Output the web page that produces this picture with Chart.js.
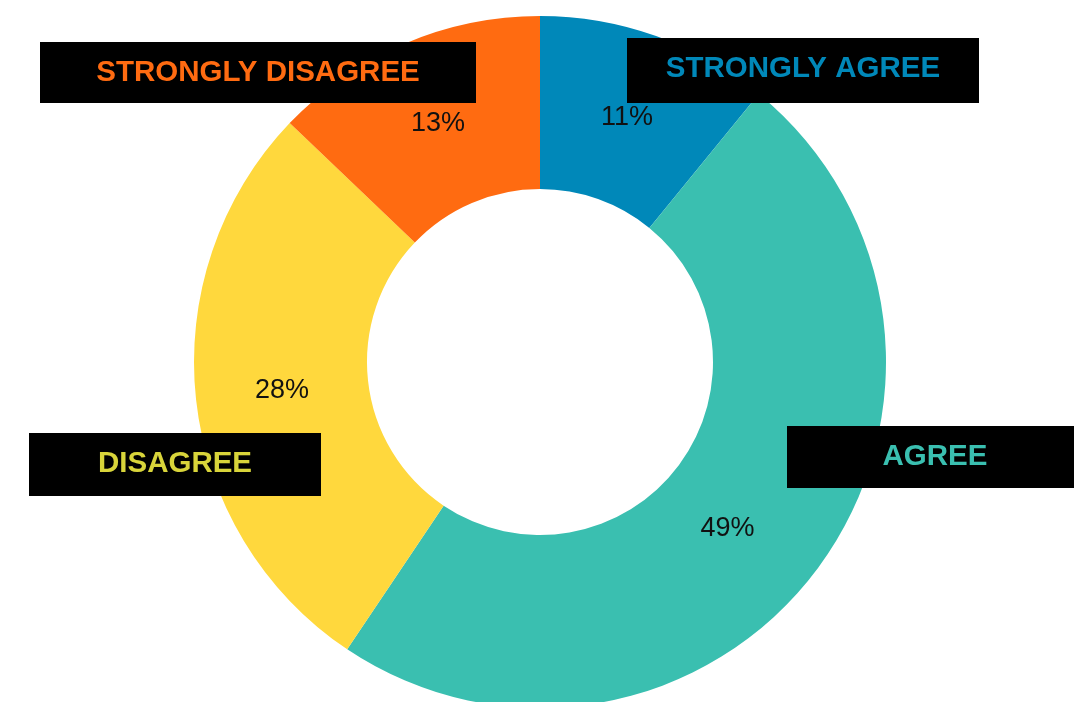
<!DOCTYPE html>
<html>
<head>
<meta charset="utf-8">
<script src="https://cdn.jsdelivr.net/npm/chart.js@4/dist/chart.umd.min.js"></script>
<style>
  html, body { margin: 0; padding: 0; background: #fff; overflow: hidden; }
  #pie { display: block; }
</style>
</head>
<body>
<canvas id="pie" width="1074" height="724"></canvas>
<script>
// survey answers, clockwise from 12 o'clock
var answers = ['STRONGLY AGREE', 'AGREE', 'DISAGREE', 'STRONGLY DISAGREE'];
var shares = [11, 49, 28, 13];
var sliceColors = ['#0088b9', '#3abfb0', '#ffd83d', '#ff6b11'];
var captionColors = ['#0088b9', '#3abfb0', '#d8d43a', '#ff6b11'];

// black caption boxes, offsets from the donut centre
var boxes = [
    { dx: 87, dy: -324, w: 352, h: 65 },
    { dx: 247, dy: 64, w: 300, h: 62 },
    { dx: -511, dy: 71, w: 292, h: 63 },
    { dx: -500, dy: -320, w: 436, h: 61 }
];
// small nudges for the percentage text
var pctShift = [[0, 0], [-21, 12], [0, 0], [0, 0]];

var calloutPlugin = {
    id: 'callouts',
    afterDatasetsDraw: function (chart) {
        var ctx = chart.ctx;
        var arcs = chart.getDatasetMeta(0).data;
        var cx = arcs[0].x, cy = arcs[0].y;

        ctx.save();
        // percentages inside the slices
        ctx.font = '27px "Liberation Sans", Arial, sans-serif';
        ctx.fillStyle = '#111';
        ctx.textAlign = 'center';
        ctx.textBaseline = 'middle';
        arcs.forEach(function (arc, i) {
            var p = arc.tooltipPosition();
            ctx.fillText(shares[i] + '%', p.x + pctShift[i][0], p.y + pctShift[i][1]);
        });

        // category captions in black boxes
        ctx.font = 'bold 29.5px "Liberation Sans", Arial, sans-serif';
        ctx.textBaseline = 'alphabetic';
        boxes.forEach(function (b, i) {
            var x = cx + b.dx, y = cy + b.dy;
            ctx.fillStyle = '#000';
            ctx.fillRect(x, y, b.w, b.h);
            ctx.fillStyle = captionColors[i];
            var tx = x + b.w / 2;
            if (i === 1) tx = x + 148;
            ctx.fillText(answers[i], tx, y + 39);
        });
        ctx.restore();
    }
};

new Chart(document.getElementById('pie'), {
    type: 'doughnut',
    data: {
        labels: answers,
        datasets: [{
            data: shares,
            backgroundColor: sliceColors,
            borderWidth: 0
        }]
    },
    options: {
        responsive: false,
        animation: false,
        cutout: '50%',
        layout: { padding: { left: 6, top: 16, bottom: 16, right: 0 } },
        plugins: {
            legend: { display: false },
            tooltip: { enabled: false }
        }
    },
    plugins: [calloutPlugin]
});
</script>
</body>
</html>
